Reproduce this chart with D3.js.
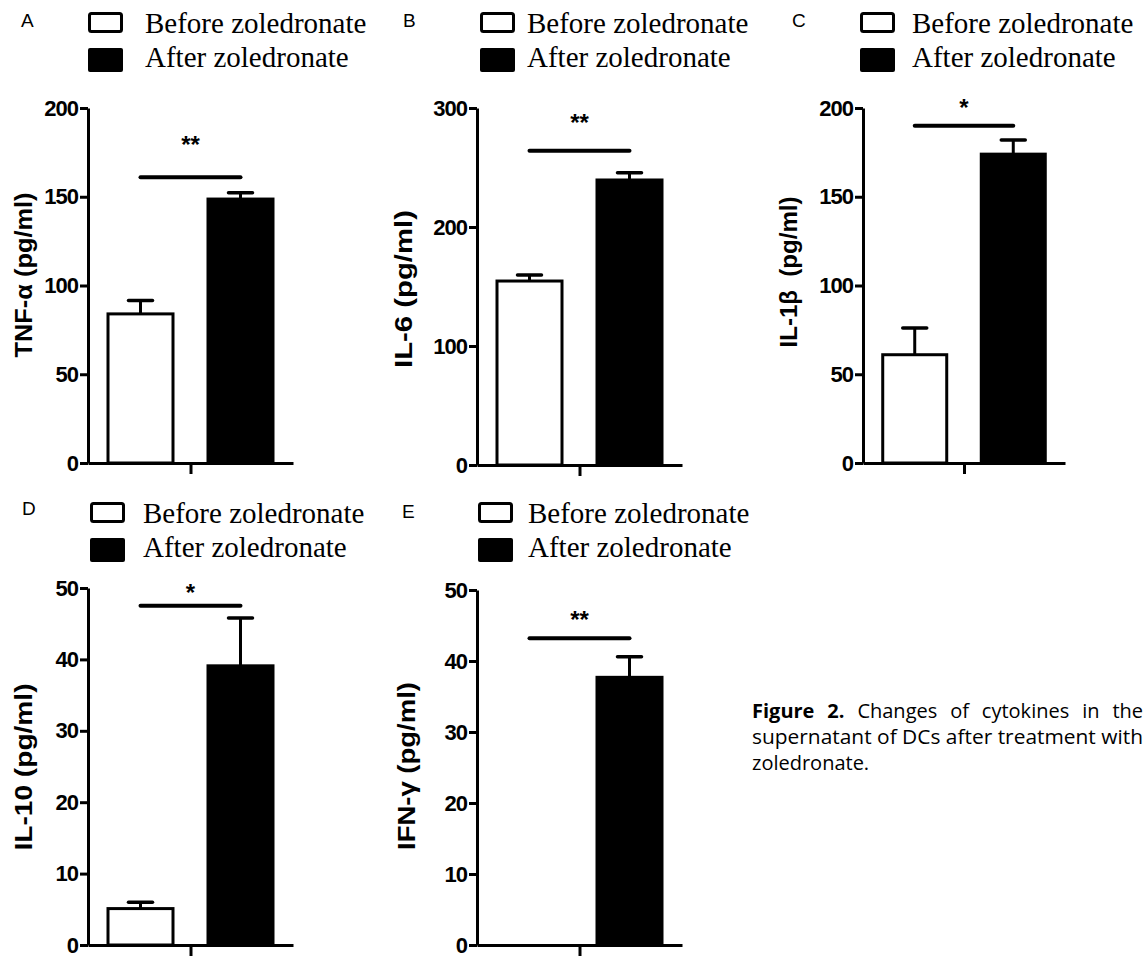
<!DOCTYPE html>
<html>
<head>
<meta charset="utf-8">
<script src="https://cdn.jsdelivr.net/npm/d3@7"></script>
<style>
body{margin:0;background:#fff;}
svg{display:block;}
.yaxis text{font-family:"Liberation Sans",Arial,sans-serif;font-weight:bold;font-size:22px;letter-spacing:-1px;fill:#000;}
.yaxis path,.yaxis line,.xaxis path,.xaxis line{stroke:#000;stroke-width:3px;}
</style>
</head>
<body>
<div class="fig-wrapper"></div>
<script>

const groups = ['Before zoledronate', 'After zoledronate'];
const panelLetters = ['A', 'B', 'C', 'D', 'E'];
const yLabels = ['TNF-\u03b1 (pg/ml)', 'IL-6 (pg/ml)', 'IL-1\u03b2  (pg/ml)', 'IL-10 (pg/ml)', 'IFN-\u03b3 (pg/ml)'];
const yMax = [200, 300, 200, 50, 50];
const yTicks = [[0, 50, 100, 150, 200], [0, 100, 200, 300], [0, 50, 100, 150, 200], [0, 10, 20, 30, 40, 50], [0, 10, 20, 30, 40, 50]];
const beforeMean = [84, 154.6, 61, 5.1, 0];
const beforeErr = [7.5, 5, 15, 0.9, 0];
const afterMean = [148.7, 239.5, 174, 39.1, 37.7];
const afterErr = [3.5, 6, 8, 6.7, 2.9];
const sigLevel = [161, 264, 190, 47.5, 43.2];
const sigStars = ['**', '**', '*', '*', '**'];
const starLevel = [182, 292, 203, 50, 46.5];

const captionLines = [
	[['Figure', true], ['2.', true], ['Changes', false], ['of', false], ['cytokines', false], ['in', false], ['the', false]],
	'supernatant of DCs after treatment with',
	'zoledronate.'
];

const width = 1146;
const height = 957;

// panel frames (pixel layout only)
const frames = [
	{x0:88, x1:293, top:108, bottom:463, letter:[21, 27], box:[88, 10], text:145, label:[32, 275, 165]},
	{x0:477, x1:682, top:108, bottom:465, letter:[403, 27], box:[480, 10], text:527, label:[412, 289, 158]},
	{x0:863, x1:1065, top:108, bottom:463, letter:[792, 27], box:[860, 10], text:912, label:[797, 272, 151]},
	{x0:88, x1:293, top:588, bottom:945, letter:[22, 515], box:[90, 500], text:143, label:[32, 767, 167]},
	{x0:477, x1:682, top:590, bottom:945, letter:[402, 518], box:[478, 500], text:528, label:[415, 766, 168]}
];

const sans = '"Liberation Sans", Arial, sans-serif';
const serif = '"Liberation Serif", "Times New Roman", serif';

const chart = d3.select('.fig-wrapper')
.append('svg')
.attr('width', width)
.attr('height', height);

frames.forEach((f, i) => {

	const g = chart.append('g');

	const yScale = d3.scaleLinear()
	.domain([0, yMax[i]])
	.range([f.bottom, f.top]);

	const xScale = d3.scaleBand()
	.domain(groups)
	.range([f.x0, f.x1])
	.paddingInner(0.32)
	.paddingOuter(0.185);

	// bars
	const bars = [
		{group:groups[0], mean:beforeMean[i], err:beforeErr[i]},
		{group:groups[1], mean:afterMean[i], err:afterErr[i]}
	].filter(d => d.mean > 0);

	g.selectAll('rect.bar')
	.data(bars)
	.enter()
	.append('rect')
	.attr('class', 'bar')
	.attr('x', d => xScale(d.group) + 1.5)
	.attr('y', d => yScale(d.mean))
	.attr('width', xScale.bandwidth() - 3)
	.attr('height', d => yScale(0) - yScale(d.mean))
	.style('fill', d => d.group == groups[0] ? '#fff' : '#000')
	.style('stroke', '#000')
	.style('stroke-width', 3);

	// error bars (upper only)
	bars.forEach(d => {
		const cx = xScale(d.group) + xScale.bandwidth() / 2;
		g.append('line')
		.attr('x1', cx).attr('x2', cx)
		.attr('y1', yScale(d.mean)).attr('y2', yScale(d.mean + d.err))
		.style('stroke', '#000').style('stroke-width', 3);
		g.append('line')
		.attr('x1', cx - 12).attr('x2', cx + 12)
		.attr('y1', yScale(d.mean + d.err)).attr('y2', yScale(d.mean + d.err))
		.style('stroke', '#000').style('stroke-width', 3.5)
		.style('stroke-linecap', 'round');
	});

	// axes
	g.append('g')
	.attr('class', 'yaxis')
	.attr('transform', `translate(${f.x0},0)`)
	.call(
		d3.axisLeft(yScale)
		.tickValues(yTicks[i])
		.tickSize(8)
		.tickSizeOuter(0)
		.tickPadding(2)
		.tickFormat(d3.format('d'))
	);

	const xLin = d3.scaleLinear().domain([0, 1]).range([f.x0, f.x1]);

	g.append('g')
	.attr('class', 'xaxis')
	.attr('transform', `translate(0,${f.bottom})`)
	.call(
		d3.axisBottom(xLin)
		.tickValues([0.5])
		.tickSize(11)
		.tickSizeOuter(0)
		.tickFormat('')
	);

	// significance
	const sx1 = xScale(groups[0]) + xScale.bandwidth() / 2;
	const sx2 = xScale(groups[1]) + xScale.bandwidth() / 2;

	g.append('line')
	.attr('x1', sx1).attr('x2', sx2)
	.attr('y1', yScale(sigLevel[i])).attr('y2', yScale(sigLevel[i]))
	.style('stroke', '#000').style('stroke-width', 4)
	.style('stroke-linecap', 'round');

	g.append('text')
	.attr('x', (sx1 + sx2) / 2)
	.attr('y', yScale(starLevel[i]) + 13)
	.attr('text-anchor', 'middle')
	.style('font-family', sans)
	.style('font-weight', 'bold')
	.style('font-size', '24px')
	.text(sigStars[i]);

	// y label
	g.append('text')
	.attr('transform', `translate(${f.label[0]},${f.label[1]}) rotate(-90)`)
	.attr('text-anchor', 'middle')
	.attr('textLength', f.label[2])
	.attr('lengthAdjust', 'spacingAndGlyphs')
	.style('font-family', sans)
	.style('font-weight', 'bold')
	.style('font-size', '24px')
	.style('white-space', 'pre')
	.text(yLabels[i]);

	// panel letter
	g.append('text')
	.attr('x', f.letter[0])
	.attr('y', f.letter[1])
	.style('font-family', sans)
	.style('font-size', '19px')
	.text(panelLetters[i]);

	// legend
	g.append('rect')
	.attr('x', f.box[0] + 1.5)
	.attr('y', f.box[1] + 3.5)
	.attr('width', 32)
	.attr('height', 18)
	.attr('rx', 2)
	.style('fill', '#fff')
	.style('stroke', '#000')
	.style('stroke-width', 3);

	g.append('rect')
	.attr('x', f.box[0])
	.attr('y', f.box[1] + 38)
	.attr('width', 35)
	.attr('height', 24)
	.attr('rx', 2)
	.style('fill', '#000');

	groups.forEach((name, j) => {
		g.append('text')
		.attr('x', f.text)
		.attr('y', f.box[1] + 23 + j * 34)
		.style('font-family', serif)
		.style('font-size', '29px')
		.text(name);
	});

});

// caption
const cap = chart.append('g')
.style('font-family', '"Open Sans", "Noto Sans", sans-serif')
.style('font-size', '20px')
.style('fill', '#000');

const capX = 752;
const capW = 391;
const capY = [718, 744, 770];

// first line justified word by word
const words = cap.append('g');
const wEls = captionLines[0].map(w => words.append('text')
	.attr('y', capY[0])
	.style('font-weight', w[1] ? 'bold' : 'normal')
	.text(w[0]));

const widths = wEls.map(t => t.node().getComputedTextLength());
const gap = (capW - d3.sum(widths)) / (wEls.length - 1);
let cursor = capX;
wEls.forEach((t, k) => {
	t.attr('x', cursor);
	cursor += widths[k] + gap;
});

cap.append('text')
.attr('x', capX)
.attr('y', capY[1])
.attr('textLength', capW)
.attr('lengthAdjust', 'spacingAndGlyphs')
.text(captionLines[1]);

cap.append('text')
.attr('x', capX)
.attr('y', capY[2])
.text(captionLines[2]);

</script>
</body>
</html>
